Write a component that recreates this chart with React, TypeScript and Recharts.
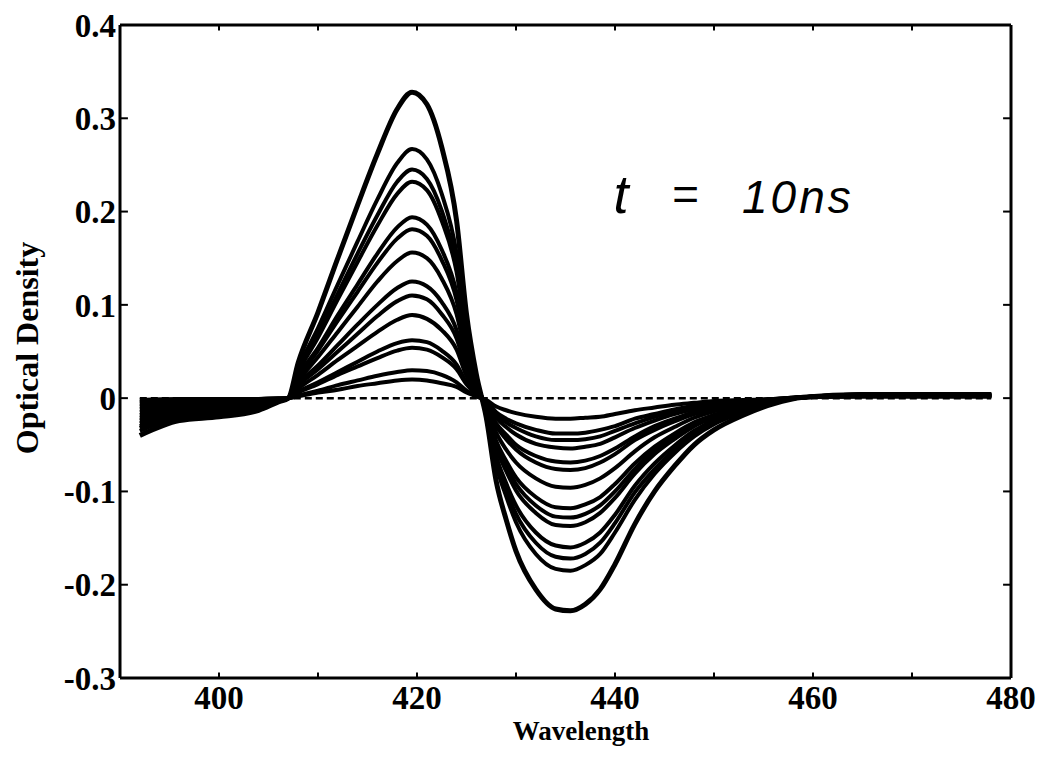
import React from 'react'
import { LineChart, Line, XAxis, YAxis, ReferenceLine } from 'recharts'

// wavelength grid (nm) the spectra were read at
const wavelengths = [
  392, 396, 400, 404, 406, 407, 408, 410, 412, 414, 416, 418, 419.5, 421, 422.5, 424, 425, 426,
  427, 428, 429, 430, 432, 434, 435.5, 437, 438.5, 440, 442, 444, 446, 448, 450, 453, 456, 459,
  465, 472, 478,
]

// optical density of each transient spectrum, largest first
const od1 = [-0.040, -0.024, -0.020, -0.013, -0.004, 0, 0.038, 0.092, 0.150, 0.207, 0.262, 0.310, 0.328, 0.315, 0.269, 0.190, 0.090, 0.025, -0.021, -0.089, -0.130, -0.164, -0.205, -0.226, -0.228, -0.221, -0.205, -0.178, -0.135, -0.100, -0.073, -0.050, -0.034, -0.018, -0.006, 0.001, 0.004, 0.004, 0.004]
const od2 = [-0.035, -0.021, -0.018, -0.012, -0.004, 0, 0.031, 0.075, 0.122, 0.168, 0.213, 0.252, 0.267, 0.256, 0.219, 0.155, 0.073, 0.020, -0.017, -0.072, -0.105, -0.133, -0.167, -0.183, -0.185, -0.179, -0.167, -0.144, -0.109, -0.081, -0.059, -0.041, -0.028, -0.015, -0.005, 0.001, 0.004, 0.004, 0.004]
const od3 = [-0.032, -0.019, -0.016, -0.011, -0.003, 0, 0.028, 0.069, 0.112, 0.155, 0.196, 0.232, 0.245, 0.235, 0.201, 0.142, 0.067, 0.019, -0.015, -0.067, -0.098, -0.124, -0.155, -0.170, -0.172, -0.167, -0.155, -0.134, -0.101, -0.076, -0.055, -0.038, -0.026, -0.014, -0.004, 0.001, 0.004, 0.004, 0.004]
const od4 = [-0.030, -0.018, -0.015, -0.010, -0.003, 0, 0.027, 0.065, 0.106, 0.146, 0.185, 0.219, 0.232, 0.223, 0.190, 0.135, 0.064, 0.018, -0.014, -0.062, -0.091, -0.115, -0.144, -0.158, -0.160, -0.155, -0.144, -0.125, -0.094, -0.070, -0.051, -0.035, -0.024, -0.013, -0.004, 0.001, 0.004, 0.004, 0.004]
const od5 = [-0.027, -0.016, -0.014, -0.009, -0.003, 0, 0.023, 0.054, 0.089, 0.122, 0.155, 0.183, 0.194, 0.186, 0.159, 0.113, 0.053, 0.015, -0.012, -0.053, -0.078, -0.099, -0.123, -0.136, -0.137, -0.133, -0.123, -0.107, -0.081, -0.060, -0.044, -0.030, -0.021, -0.011, -0.004, 0.001, 0.003, 0.003, 0.003]
const od6 = [-0.024, -0.014, -0.012, -0.008, -0.002, 0, 0.021, 0.051, 0.083, 0.114, 0.145, 0.171, 0.181, 0.174, 0.148, 0.105, 0.050, 0.014, -0.012, -0.050, -0.073, -0.092, -0.115, -0.127, -0.128, -0.124, -0.115, -0.100, -0.076, -0.056, -0.041, -0.028, -0.019, -0.010, -0.003, 0.001, 0.003, 0.003, 0.003]
const od7 = [-0.021, -0.013, -0.011, -0.007, -0.002, 0, 0.018, 0.044, 0.071, 0.098, 0.125, 0.147, 0.156, 0.150, 0.128, 0.090, 0.043, 0.012, -0.011, -0.046, -0.067, -0.085, -0.106, -0.117, -0.118, -0.114, -0.106, -0.092, -0.070, -0.052, -0.038, -0.026, -0.018, -0.009, -0.003, 0.001, 0.003, 0.003, 0.003]
const od8 = [-0.018, -0.011, -0.009, -0.006, -0.002, 0, 0.015, 0.035, 0.057, 0.079, 0.100, 0.118, 0.125, 0.120, 0.103, 0.073, 0.034, 0.010, -0.009, -0.037, -0.055, -0.069, -0.086, -0.095, -0.096, -0.093, -0.086, -0.075, -0.057, -0.042, -0.031, -0.021, -0.014, -0.008, -0.002, 0.001, 0.003, 0.003, 0.003]
const od9 = [-0.015, -0.009, -0.008, -0.005, -0.002, 0, 0.013, 0.031, 0.050, 0.069, 0.088, 0.104, 0.110, 0.106, 0.090, 0.064, 0.030, 0.008, -0.007, -0.030, -0.044, -0.055, -0.069, -0.076, -0.077, -0.075, -0.069, -0.060, -0.045, -0.034, -0.025, -0.017, -0.012, -0.006, -0.002, 0.001, 0.003, 0.003, 0.003]
const od10 = [-0.012, -0.007, -0.006, -0.004, -0.001, 0, 0.010, 0.025, 0.041, 0.056, 0.071, 0.084, 0.089, 0.085, 0.073, 0.052, 0.024, 0.007, -0.006, -0.027, -0.039, -0.050, -0.062, -0.068, -0.069, -0.067, -0.062, -0.054, -0.041, -0.030, -0.022, -0.015, -0.010, -0.006, -0.002, 0.001, 0.002, 0.002, 0.002]
const od11 = [-0.009, -0.005, -0.005, -0.003, -0.001, 0, 0.007, 0.017, 0.028, 0.039, 0.050, 0.059, 0.062, 0.060, 0.051, 0.036, 0.017, 0.005, -0.005, -0.021, -0.031, -0.039, -0.049, -0.053, -0.054, -0.052, -0.049, -0.042, -0.032, -0.024, -0.017, -0.012, -0.008, -0.004, -0.001, 0.001, 0.002, 0.002, 0.002]
const od12 = [-0.006, -0.004, -0.003, -0.002, -0.001, 0, 0.006, 0.015, 0.025, 0.034, 0.043, 0.051, 0.054, 0.052, 0.044, 0.031, 0.015, 0.004, -0.004, -0.018, -0.026, -0.032, -0.041, -0.045, -0.045, -0.044, -0.041, -0.035, -0.027, -0.020, -0.014, -0.010, -0.007, -0.004, -0.001, 0.001, 0.002, 0.002, 0.002]
const od13 = [-0.004, -0.002, -0.002, -0.001, 0, 0, 0.003, 0.008, 0.014, 0.019, 0.024, 0.028, 0.030, 0.029, 0.025, 0.017, 0.008, 0.002, -0.003, -0.015, -0.022, -0.027, -0.034, -0.038, -0.038, -0.037, -0.034, -0.030, -0.022, -0.017, -0.012, -0.008, -0.006, -0.003, -0.001, 0.001, 0.002, 0.002, 0.002]
const od14 = [-0.002, -0.001, -0.001, -0.001, 0, 0, 0.002, 0.006, 0.009, 0.013, 0.016, 0.019, 0.020, 0.019, 0.016, 0.012, 0.006, 0.002, -0.002, -0.009, -0.013, -0.016, -0.020, -0.022, -0.022, -0.021, -0.020, -0.017, -0.013, -0.010, -0.007, -0.005, -0.003, -0.002, -0.001, 0.001, 0.002, 0.002, 0.002]

const spectra = [od1, od2, od3, od4, od5, od6, od7, od8, od9, od10, od11, od12, od13, od14]

const xLabelTicks = [400, 420, 440, 460, 480]
const xMinorTicks = [400, 410, 420, 430, 440, 450, 460, 470]
const yTicks = [-0.3, -0.2, -0.1, 0, 0.1, 0.2, 0.3, 0.4]

const data = wavelengths.map((w, i) => {
  const row: Record<string, number> = { w }
  spectra.forEach((s, k) => {
    row[`s${k + 1}`] = s[i]
  })
  return row
})

const serif = 'Liberation Serif, Times New Roman, serif'
const tickStyle = { fill: '#000', fontSize: 33, fontWeight: 'bold' as const, fontFamily: serif }

export default function App() {
  return (
    <div style={{ position: 'absolute', left: 0, top: 0, width: 1043, height: 772, background: '#fff' }}>
      <LineChart
        width={1043}
        height={772}
        data={data}
        margin={{ top: 25, right: 32, left: 0, bottom: 34 }}
      >
        <XAxis
          dataKey="w"
          type="number"
          domain={[390, 480]}
          ticks={xLabelTicks}
          interval={0}
          height={60}
          tickSize={0}
          tickMargin={8}
          tickLine={false}
          axisLine={{ stroke: '#000', strokeWidth: 3 }}
          tick={tickStyle}
        />
        <YAxis
          type="number"
          domain={[-0.3, 0.4]}
          ticks={yTicks}
          interval={0}
          width={120}
          tickSize={0}
          tickMargin={4}
          tickLine={false}
          axisLine={{ stroke: '#000', strokeWidth: 3 }}
          tick={tickStyle}
          tickFormatter={(v: number) => (v === 0 ? '0' : v.toFixed(1))}
        />
        <ReferenceLine y={0.4} stroke="#000" strokeWidth={3} ifOverflow="visible" />
        <ReferenceLine x={480} stroke="#000" strokeWidth={3} ifOverflow="visible" />
        {/* inward ticks, MATLAB style, on all four sides */}
        {xMinorTicks.map((t) => (
          <ReferenceLine
            key={`xb${t}`}
            segment={[{ x: t, y: -0.3 }, { x: t, y: -0.294 }]}
            stroke="#000"
            strokeWidth={2}
            ifOverflow="visible"
          />
        ))}
        {xMinorTicks.map((t) => (
          <ReferenceLine
            key={`xt${t}`}
            segment={[{ x: t, y: 0.4 }, { x: t, y: 0.394 }]}
            stroke="#000"
            strokeWidth={2}
            ifOverflow="visible"
          />
        ))}
        {yTicks.map((t) => (
          <ReferenceLine
            key={`yl${t}`}
            segment={[{ x: 390, y: t }, { x: 390.8, y: t }]}
            stroke="#000"
            strokeWidth={2}
            ifOverflow="visible"
          />
        ))}
        {yTicks.map((t) => (
          <ReferenceLine
            key={`yr${t}`}
            segment={[{ x: 480, y: t }, { x: 479.2, y: t }]}
            stroke="#000"
            strokeWidth={2}
            ifOverflow="visible"
          />
        ))}
        <ReferenceLine
          segment={[{ x: 392, y: 0 }, { x: 478, y: 0 }]}
          stroke="#000"
          strokeWidth={2.5}
          strokeDasharray="7 4"
          ifOverflow="visible"
        />
        {spectra.map((_, k) => (
          <Line
            key={k}
            type="monotone"
            dataKey={`s${k + 1}`}
            stroke="#000"
            strokeWidth={k === 0 ? 5 : 4}
            dot={false}
            isAnimationActive={false}
          />
        ))}
      </LineChart>
      <svg
        width={1043}
        height={772}
        style={{ position: 'absolute', left: 0, top: 0, pointerEvents: 'none' }}
      >
        <text
          x={581}
          y={740}
          textAnchor="middle"
          fontFamily={serif}
          fontWeight="bold"
          fontSize={27}
          fill="#000"
        >
          Wavelength
        </text>
        <text
          x={38}
          y={348}
          transform="rotate(-90, 38, 348)"
          textAnchor="middle"
          fontFamily={serif}
          fontWeight="bold"
          fontSize={32}
          fill="#000"
        >
          Optical Density
        </text>
        <g fontFamily="Liberation Sans, Arial, sans-serif" fontStyle="italic" fontSize={46} fill="#000">
          <text x={621} y={213} textAnchor="middle" fontSize={54}>t</text>
          <text x={685} y={210} textAnchor="middle">=</text>
          <text x={742} y={213} letterSpacing={3}>10ns</text>
        </g>
      </svg>
    </div>
  )
}
